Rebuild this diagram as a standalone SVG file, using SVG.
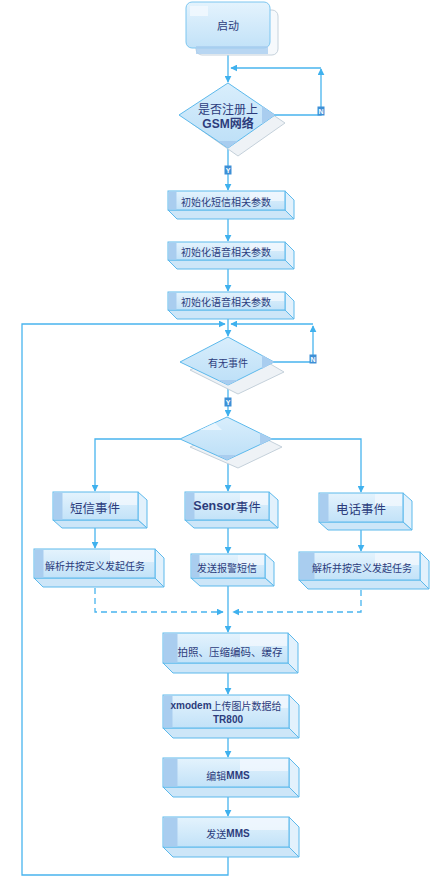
<svg xmlns="http://www.w3.org/2000/svg" width="433" height="885" viewBox="0 0 433 885">
<defs>
<linearGradient id="gf" x1="0" y1="0" x2="0" y2="1"><stop offset="0" stop-color="#e4f3fd"/><stop offset="1" stop-color="#c2e2f8"/></linearGradient>
<linearGradient id="gd" x1="0" y1="0" x2="0" y2="1"><stop offset="0" stop-color="#d9eefc"/><stop offset="1" stop-color="#bcdff7"/></linearGradient>
<marker id="ar" viewBox="0 0 10 10" refX="9" refY="5" markerWidth="7" markerHeight="7" orient="auto" markerUnits="userSpaceOnUse"><path d="M0,0 L10,5 L0,10 z" fill="#3fb1ee"/></marker>
</defs>
<style>
.ln{fill:none;stroke:#48b4ee;stroke-width:1.3}
.ds{fill:none;stroke:#48b4ee;stroke-width:1.3;stroke-dasharray:6,4}
.fr{fill:url(#gf);stroke:#5cb9ec;stroke-width:1}
.sd{fill:#e2f1fc;stroke:#5cb9ec;stroke-width:1}
.bt{fill:#cde6f8;stroke:#5cb9ec;stroke-width:1}
.st{fill:#a9cdef}
.hl{fill:#f1f8fe;opacity:0.8}
.t{font-family:"Noto Sans CJK SC","Noto Sans",sans-serif;fill:#2c3c7c;text-anchor:middle;dominant-baseline:central}
.b{font-family:"Liberation Sans","Noto Sans CJK SC",sans-serif;font-weight:bold;fill:#2c3c7c;text-anchor:middle;dominant-baseline:central}
.dm{fill:url(#gd);stroke:#5cb9ec;stroke-width:1}
.sh{fill:#eef2f6;stroke:#c4d0da;stroke-width:1}
.lb{fill:#3d8fd6}
.lt{font-family:"Liberation Sans",sans-serif;font-size:7px;font-weight:bold;fill:#ffffff;text-anchor:middle;dominant-baseline:central}
</style>

<g id="connectors">
<path class="ln" d="M228,50 V82" marker-end="url(#ar)"/>
<path class="ln" d="M275,115 H321 V69" marker-end="url(#ar)"/>
<path class="ln" d="M321,68 H231" marker-end="url(#ar)"/>
<path class="ln" d="M228,148 V190" marker-end="url(#ar)"/>
<path class="ln" d="M228,210 V241" marker-end="url(#ar)"/>
<path class="ln" d="M228,260 V291" marker-end="url(#ar)"/>
<path class="ln" d="M228,310 V336" marker-end="url(#ar)"/>
<path class="ln" d="M228,847 V875 H22 V324 H225" marker-end="url(#ar)"/>
<path class="ln" d="M274,362 H313 V326" marker-end="url(#ar)"/>
<path class="ln" d="M313,324 H231" marker-end="url(#ar)"/>
<path class="ln" d="M228,385 V416" marker-end="url(#ar)"/>
<path class="ln" d="M180,439 H95 V491" marker-end="url(#ar)"/>
<path class="ln" d="M272,439 H361 V492" marker-end="url(#ar)"/>
<path class="ln" d="M228,460 V491" marker-end="url(#ar)"/>
<path class="ln" d="M95,520 V548" marker-end="url(#ar)"/>
<path class="ln" d="M228,520 V553" marker-end="url(#ar)"/>
<path class="ln" d="M361,522 V551" marker-end="url(#ar)"/>
<path class="ln" d="M228,578 V632" marker-end="url(#ar)"/>
<path class="ds" d="M95,578 V612 H223" marker-end="url(#ar)"/>
<path class="ds" d="M361,580 V612 H233" marker-end="url(#ar)"/>
<path class="ln" d="M228,663 V694" marker-end="url(#ar)"/>
<path class="ln" d="M228,728 V757" marker-end="url(#ar)"/>
<path class="ln" d="M228,787 V816" marker-end="url(#ar)"/>
<rect class="lb" x="317.5" y="106.5" width="7" height="9"/><text class="lt" x="321" y="111">N</text>
<rect class="lb" x="309.5" y="354.5" width="7" height="9"/><text class="lt" x="313" y="359">N</text>
<rect class="lb" x="224.5" y="165.5" width="7" height="9"/><text class="lt" x="228" y="170">Y</text>
<rect class="lb" x="224.5" y="397.5" width="7" height="9"/><text class="lt" x="228" y="402">Y</text>
</g>

<g id="start">
<rect x="196" y="10" width="82" height="45" rx="6" fill="#f6f9fc" stroke="#c6d2dc"/>
<rect x="186" y="2" width="84" height="46" rx="6" fill="url(#gf)" stroke="#7cc6f0"/>
<rect x="196" y="46" width="72" height="8" fill="#a9cdef" opacity="0.8"/>
<rect x="190" y="6" width="18" height="10" fill="#f3f9fe" opacity="0.8"/>
<text class="t" x="228" y="25" font-size="11">启动</text>
</g>

<g id="gsm">
<polygon class="sh" points="238,91 285,123 238,156 191,123"/>
<polygon class="dm" points="228,83 275,115 228,148 179,115"/>
<polygon points="262,106 275,115 262,124" fill="#a9cdef"/>
<polygon points="218,141 228,148 238,141" fill="#a9cdef"/>
<text class="t" x="228" y="108" font-size="12">是否注册上</text>
<text class="b" x="228" y="124" font-size="12">GSM网络</text>
</g>

<g id="init1">
<polygon class="sd" points="285,191 294,200 294,219 285,210"/>
<polygon class="bt" points="168,210 285,210 294,219 177,219"/>
<rect class="fr" x="168" y="191" width="117" height="19"/>
<rect class="st" x="168.5" y="191.5" width="8" height="18"/>
<rect class="hl" x="250" y="192" width="34" height="9"/>
<text class="t" x="226" y="201" font-size="10">初始化短信相关参数</text>
</g>

<g id="init2">
<polygon class="sd" points="285,242 294,251 294,269 285,260"/>
<polygon class="bt" points="168,260 285,260 294,269 177,269"/>
<rect class="fr" x="168" y="242" width="117" height="18"/>
<rect class="st" x="168.5" y="242.5" width="8" height="17"/>
<rect class="hl" x="250" y="243" width="34" height="8"/>
<text class="t" x="226" y="251" font-size="10">初始化语音相关参数</text>
</g>

<g id="init3">
<polygon class="sd" points="285,292 294,301 294,319 285,310"/>
<polygon class="bt" points="168,310 285,310 294,319 177,319"/>
<rect class="fr" x="168" y="292" width="117" height="18"/>
<rect class="st" x="168.5" y="292.5" width="8" height="17"/>
<rect class="hl" x="250" y="293" width="34" height="8"/>
<text class="t" x="226" y="301" font-size="10">初始化语音相关参数</text>
</g>

<g id="event">
<polygon class="sh" points="238,345 284,372 238,394 190,370"/>
<polygon class="dm" points="228,337 274,362 228,385 180,362"/>
<polygon points="262,355 274,362 262,369" fill="#a9cdef"/>
<polygon points="218,380 228,385 238,380" fill="#a9cdef"/>
<text class="t" x="228" y="362" font-size="10">有无事件</text>
</g>

<g id="branch">
<polygon class="sh" points="238,425 282,447 238,468 190,447"/>
<polygon class="dm" points="227,417 272,439 227,460 180,439"/>
<polygon points="260,433 272,439 260,445" fill="#a9cdef"/>
<polygon points="217,455 227,460 237,455" fill="#a9cdef"/>
<polygon points="200,430 215,423 222,430" fill="#eaf5fd"/>
</g>

<g id="sms">
<polygon class="sd" points="138,492 147,500 147,528 138,520"/>
<polygon class="bt" points="53,520 138,520 147,528 62,528"/>
<rect class="fr" x="53" y="492" width="85" height="28"/>
<rect class="st" x="53.5" y="492.5" width="9" height="27"/>
<rect class="hl" x="110" y="493" width="27" height="12"/>
<text class="t" x="95" y="507" font-size="12.5">短信事件</text>
</g>

<g id="sensor">
<polygon class="sd" points="269,492 278,500 278,528 269,520"/>
<polygon class="bt" points="185,520 269,520 278,528 194,528"/>
<rect class="fr" x="185" y="492" width="84" height="28"/>
<rect class="st" x="185.5" y="492.5" width="9" height="27"/>
<rect class="hl" x="240" y="493" width="28" height="12"/>
<text x="227" y="506" font-size="12.5" class="t"><tspan font-family="Liberation Sans,sans-serif" font-weight="bold">Sensor</tspan>事件</text>
</g>

<g id="phone">
<polygon class="sd" points="403,493 412,501 412,530 403,522"/>
<polygon class="bt" points="319,522 403,522 412,530 328,530"/>
<rect class="fr" x="319" y="493" width="84" height="29"/>
<rect class="st" x="319.5" y="493.5" width="9" height="28"/>
<rect class="hl" x="375" y="494" width="27" height="12"/>
<text class="t" x="361" y="508" font-size="12.5">电话事件</text>
</g>

<g id="parse1">
<polygon class="sd" points="155,549 164,558 164,587 155,578"/>
<polygon class="bt" points="34,578 155,578 164,587 43,587"/>
<rect class="fr" x="34" y="549" width="121" height="29"/>
<rect class="st" x="34.5" y="549.5" width="9" height="28"/>
<rect class="hl" x="110" y="550" width="44" height="12"/>
<text class="t" x="95" y="565" font-size="10">解析并按定义发起任务</text>
</g>

<g id="alarm">
<polygon class="sd" points="265,554 274,562 274,586 265,578"/>
<polygon class="bt" points="191,578 265,578 274,586 200,586"/>
<rect class="fr" x="191" y="554" width="74" height="24"/>
<rect class="st" x="191.5" y="554.5" width="8" height="23"/>
<rect class="hl" x="238" y="555" width="26" height="10"/>
<text class="t" x="227" y="567" font-size="10">发送报警短信</text>
</g>

<g id="parse2">
<polygon class="sd" points="420,552 429,561 429,589 420,580"/>
<polygon class="bt" points="299,580 420,580 429,589 308,589"/>
<rect class="fr" x="299" y="552" width="121" height="28"/>
<rect class="st" x="299.5" y="552.5" width="15" height="27"/>
<rect class="hl" x="375" y="553" width="44" height="12"/>
<text class="t" x="362" y="567" font-size="10">解析并按定义发起任务</text>
</g>

<g id="photo">
<polygon class="sd" points="288,633 298,643 298,673 288,663"/>
<polygon class="bt" points="163,663 288,663 298,673 173,673"/>
<rect class="fr" x="163" y="633" width="125" height="30"/>
<rect class="st" x="163.5" y="633.5" width="14" height="29"/>
<rect class="hl" x="240" y="634" width="47" height="12"/>
<text class="t" x="230" y="651" font-size="10.5">拍照、压缩编码、缓存</text>
</g>

<g id="xmodem">
<polygon class="sd" points="289,695 299,705 299,738 289,728"/>
<polygon class="bt" points="163,728 289,728 299,738 173,738"/>
<rect class="fr" x="163" y="695" width="126" height="33"/>
<rect class="st" x="163.5" y="695.5" width="9" height="32"/>
<rect class="hl" x="240" y="696" width="48" height="12"/>
<text x="226" y="705" font-size="10" class="b"><tspan>xmodem</tspan><tspan font-family="Noto Sans CJK SC,sans-serif" font-weight="normal">上传图片数据给</tspan></text>
<text class="b" x="228" y="719" font-size="10">TR800</text>
</g>

<g id="edit">
<polygon class="sd" points="289,758 299,768 299,797 289,787"/>
<polygon class="bt" points="163,787 289,787 299,797 173,797"/>
<rect class="fr" x="163" y="758" width="126" height="29"/>
<rect class="st" x="163.5" y="758.5" width="14" height="28"/>
<rect class="hl" x="240" y="759" width="48" height="12"/>
<text x="228" y="775" font-size="10" class="t">编辑<tspan font-family="Liberation Sans,sans-serif" font-weight="bold">MMS</tspan></text>
</g>

<g id="send">
<polygon class="sd" points="289,817 299,827 299,857 289,847"/>
<polygon class="bt" points="163,847 289,847 299,857 173,857"/>
<rect class="fr" x="163" y="817" width="126" height="30"/>
<rect class="st" x="163.5" y="817.5" width="14" height="29"/>
<rect class="hl" x="240" y="818" width="48" height="12"/>
<text x="228" y="833" font-size="10" class="t">发送<tspan font-family="Liberation Sans,sans-serif" font-weight="bold">MMS</tspan></text>
</g>
</svg>
